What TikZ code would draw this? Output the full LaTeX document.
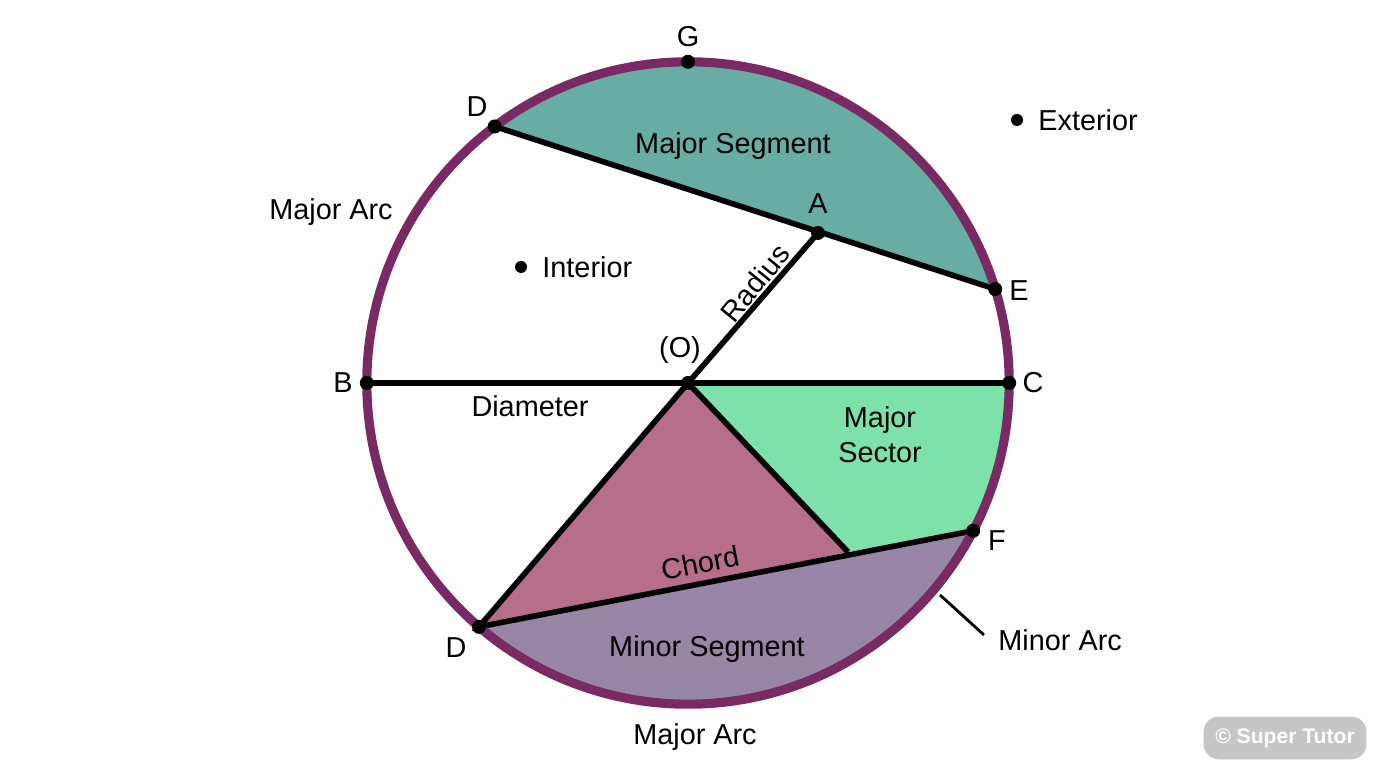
\documentclass[tikz,border=0pt]{standalone}
\usetikzlibrary{calc}
\usepackage{fontspec}
\setmainfont{Liberation Sans}
\begin{document}
\begin{tikzpicture}[x=0.01cm,y=0.01cm,
  lbl/.style={font=\fontsize{8.2}{10}\selectfont},
  pt/.style={circle,fill=black,inner sep=0pt,minimum size=0.14cm}]
\useasboundingbox[fill=white] (0,0) rectangle (1376,768);
\definecolor{rim}{HTML}{7A2A62}
\definecolor{segT}{HTML}{67ADA4}
\definecolor{sect}{HTML}{7CE2A9}
\definecolor{tri}{HTML}{B66E8A}
\definecolor{segB}{HTML}{9786A6}
\coordinate (O) at (688,385);
\coordinate (D1) at ($(O)+(127:3.21cm)$);
\coordinate (E) at ($(O)+(17:3.21cm)$);
\coordinate (F) at ($(O)+(-27.4:3.21cm)$);
\coordinate (D2) at ($(O)+(-130.6:3.21cm)$);
\coordinate (C) at ($(O)+(0:3.21cm)$);
\coordinate (B) at ($(O)+(180:3.21cm)$);
\coordinate (G) at ($(O)+(90:3.21cm)$);
\coordinate (A) at (818,535);
\coordinate (P) at (848,216);
% fills
\fill[segT] (D1) arc[start angle=127,end angle=17,radius=3.21cm] -- cycle;
\fill[sect] (O) -- (C) arc[start angle=0,end angle=-27.4,radius=3.21cm] -- (P) -- cycle;
\fill[tri] (O) -- (D2) -- (P) -- cycle;
\fill[segB] (D2) arc[start angle=-130.6,end angle=-27.4,radius=3.21cm] -- cycle;
% lines
\draw[line width=1.6pt] (D1) -- (E) (O) -- (A) (B) -- (C) (O) -- (D2) -- (F) (O) -- (P);
\draw[rim,line width=2.6pt] (O) circle[radius=3.21cm];
\foreach \p in {D1,E,F,D2,C,B,G,A,O} \node[pt] at (\p) {};
% labels
\node[lbl] at (688,731) {G};
\node[lbl] at (477,661) {D};
\node[lbl] at (818,564) {A};
\node[lbl] at (1019,477) {E};
\node[lbl] at (1033,385) {C};
\node[lbl] at (343,385) {B};
\node[lbl] at (997,227) {F};
\node[lbl] at (456,120) {D};
\node[lbl] at (680,418) {(O)};
\node[lbl] at (733,622) {Major Segment};
\node[lbl] at (331,556) {Major Arc};
\node[pt,minimum size=0.12cm] (ip) at (521,501) {};
\node[lbl,anchor=west] at (530,501) {Interior};
\node[pt,minimum size=0.12cm] (ep) at (1017,648) {};
\node[lbl,anchor=west] at (1026,648) {Exterior};
\node[lbl,rotate=51] at (755,485) {Radius};
\node[lbl] at (530,362) {Diameter};
\node[lbl,align=center] at (880,333) {Major\\Sector};
\node[lbl,rotate=11] at (700,205) {Chord};
\node[lbl] at (707,119) {Minor Segment};
\node[lbl] at (695,31) {Major Arc};
\node[lbl,anchor=west] (ma) at (986,128) {Minor Arc};
\draw[line width=0.8pt] (940,173) -- (984,133);
\node[fill=gray!45,text=white,rounded corners=0.15cm,font=\fontsize{6}{7}\selectfont\bfseries,minimum width=1.5cm,minimum height=0.3cm] at (1285,30) {© Super Tutor};
\end{tikzpicture}
\end{document}
